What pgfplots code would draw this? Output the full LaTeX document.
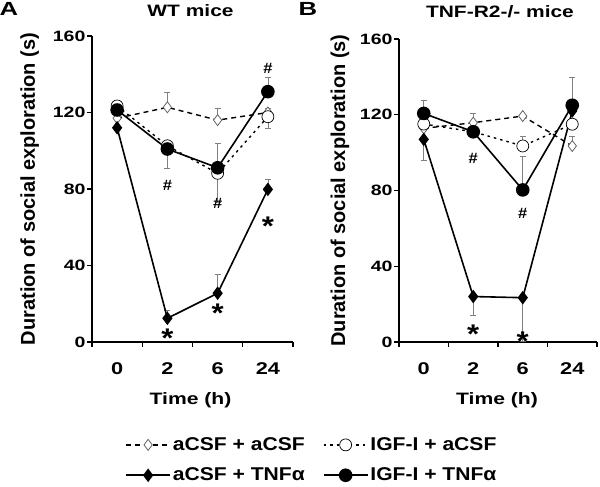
\documentclass[border=0pt]{standalone}
\usepackage{fontspec}
\setmainfont{Liberation Sans}
\usepackage{graphicx}
\usepackage{pgfplots}
\usepackage{pgfplotstable}
\pgfplotsset{compat=1.18}
\newcommand\fs[1]{\fontsize{#1bp}{#1bp}\selectfont\bfseries}
\newcommand\hs[1]{\scalebox{1.14}[1]{#1}}

% Panel A data
\pgfplotstableread{
x y ep em
0.5 117 0 0
1.5 122.7 8 0
2.5 116 6 0
3.5 120 2 0
}\Aaa
\pgfplotstableread{
x y ep em
0.5 123.4 0 0
1.5 102.6 0 0
2.5 88.2 0 15
3.5 117.8 0 6
}\Aia
\pgfplotstableread{
x y ep em
0.5 112 0 0
1.5 12.4 4 0
2.5 25.5 10 0
3.5 79.8 5 0
}\Aat
\pgfplotstableread{
x y ep em
0.5 121.3 0 0
1.5 100.9 0 10
2.5 91.1 13 0
3.5 130.9 7.5 0
}\Ait
% Panel B data
\pgfplotstableread{
x y ep em
0.5 112.8 0 0
1.5 115.8 5 0
2.5 119.3 0 0
3.5 103.5 5 0
}\Baa
\pgfplotstableread{
x y ep em
0.5 115.1 0 0
1.5 111 0 0
2.5 103.5 5 0
3.5 115 0 0
}\Bia
\pgfplotstableread{
x y ep em
0.5 107 0 11
1.5 24 0 10
2.5 23.4 0 23
3.5 122 0 0
}\Bat
\pgfplotstableread{
x y ep em
0.5 120.7 7 0
1.5 111 0 0
2.5 80.3 17.5 0
3.5 125 15 0
}\Bit

\tikzset{
  hsh/.style={font=\fs{15}, xscale=1.1},
  ast/.style={font=\fs{27}, xscale=1.15},
  let/.style={font=\fs{19}, xscale=1.35},
}
\pgfplotsset{
  panel/.style={
    scale only axis,
    axis x line*=bottom, axis y line*=left,
    axis line style={black, line width=1.2bp},
    xmin=0, xmax=4, ymin=0, ymax=160,
    ytick={0,40,80,120,160},
    xtick={0,1,2,3,4}, xticklabels={},
    extra x ticks={0.5,1.5,2.5,3.5},
    extra x tick labels={0,2,6,24},
    extra x tick style={major tick length=0pt,
      xticklabel style={font=\fs{17}, xscale=1.28, inner sep=0pt, anchor=north, yshift=-20bp}},
    tick align=outside,
    major tick length=5bp,
    tick style={black, line width=1.2bp},
    yticklabel style={font=\fs{15}, xscale=1.3, inner sep=0pt, anchor=east, xshift=-1bp},
    /pgf/number format/assume math mode=true,
    ylabel style={font=\fs{20}},
    xlabel style={font=\fs{16.5}, xscale=1.28},
    title style={font=\fs{16.5}, xscale=1.27},
    clip=false,
  },
  errs/.style={draw=none, mark=none, forget plot,
    error bars/.cd, y dir=both, y explicit,
    error bar style={gray, line width=0.7bp},
    error mark options={gray, rotate=90, mark size=3bp, line width=0.7bp}},
  saa/.style={black, line width=1.4bp, dash pattern=on 5bp off 4bp, mark=diamond*,
    mark size=5.5bp, mark options={solid, fill=white, draw=gray!80!black, line width=0.8bp}},
  sia/.style={black, line width=1.4bp, dash pattern=on 2.5bp off 4bp, mark=*,
    mark size=6bp, mark options={solid, fill=white, draw=black, line width=0.7bp}},
  sat/.style={black, line width=1.6bp, mark=diamond*, mark size=5.5bp, mark options={solid, fill=black}},
  sit/.style={black, line width=1.6bp, mark=*, mark size=6bp, mark options={solid, fill=black}},
}

\begin{document}
\begin{tikzpicture}[x=1bp,y=1bp]
\useasboundingbox (0,0) rectangle (600,487);
\node[let] at (9,478) {A};
\node[let] at (308,478) {B};

\begin{axis}[panel, at={(92bp,145bp)}, anchor=south west, width=201bp, height=306bp,
  ylabel={Duration of social exploration (s)},
  ylabel style={at={(axis description cs:-0.31,0.5)}, anchor=center},
  xlabel={Time (h)},
  xlabel style={at={(axis description cs:0.49,-0.19)}, anchor=center},
  title={WT mice},
  title style={at={(axis description cs:0.49,1.062)}, anchor=center},
  legend columns=2,
  legend style={draw=none, fill=none, font=\fs{18.5}, at={(axis description cs:0.15,-0.299)}, anchor=north west,
    /tikz/every even column/.append style={column sep=16bp}, row sep=12bp},
  legend image code/.code={\draw[mark repeat=2, mark phase=2, #1] plot coordinates {(0bp,0bp) (22bp,0bp) (44bp,0bp)};},
]
\addplot[errs] table[x=x, y=y, y error plus=ep, y error minus=em] {\Aaa};
\addplot[errs] table[x=x, y=y, y error plus=ep, y error minus=em] {\Aia};
\addplot[errs] table[x=x, y=y, y error plus=ep, y error minus=em] {\Aat};
\addplot[errs] table[x=x, y=y, y error plus=ep, y error minus=em] {\Ait};
\addplot[saa] table[x=x, y=y] {\Aaa};
\addlegendentry{\hs{aCSF + aCSF}}
\addplot[sia] table[x=x, y=y] {\Aia};
\addlegendentry{\hs{IGF-I + aCSF}}
\addplot[sat] table[x=x, y=y] {\Aat};
\addlegendentry{\hs{aCSF + TNFα}}
\addplot[sit] table[x=x, y=y] {\Ait};
\addlegendentry{\hs{IGF-I + TNFα}}
\node[hsh] at (axis cs:1.5,82) {\#};
\node[hsh] at (axis cs:2.5,72.6) {\#};
\node[hsh] at (axis cs:3.5,143) {\#};
\node[ast] at (axis cs:1.5,2) {*};
\node[ast] at (axis cs:2.5,15) {*};
\node[ast] at (axis cs:3.5,60.6) {*};
\end{axis}

\begin{axis}[panel, at={(399bp,145bp)}, anchor=south west, width=198bp, height=303bp,
  ylabel={Duration of social exploration (s)},
  ylabel style={at={(axis description cs:-0.298,0.5)}, anchor=center},
  xlabel={Time (h)},
  xlabel style={at={(axis description cs:0.495,-0.191)}, anchor=center},
  title={TNF-R2-/- mice},
  title style={at={(axis description cs:0.51,1.069)}, anchor=center},
]
\addplot[errs] table[x=x, y=y, y error plus=ep, y error minus=em] {\Baa};
\addplot[errs] table[x=x, y=y, y error plus=ep, y error minus=em] {\Bia};
\addplot[errs] table[x=x, y=y, y error plus=ep, y error minus=em] {\Bat};
\addplot[errs] table[x=x, y=y, y error plus=ep, y error minus=em] {\Bit};
\addplot[saa] table[x=x, y=y] {\Baa};
\addplot[sia] table[x=x, y=y] {\Bia};
\addplot[sat] table[x=x, y=y] {\Bat};
\addplot[sit] table[x=x, y=y] {\Bit};
\node[hsh] at (axis cs:1.5,97) {\#};
\node[hsh] at (axis cs:2.5,68) {\#};
\node[ast] at (axis cs:1.5,4) {*};
\node[ast] at (axis cs:2.5,0.5) {*};
\end{axis}
\end{tikzpicture}
\end{document}
